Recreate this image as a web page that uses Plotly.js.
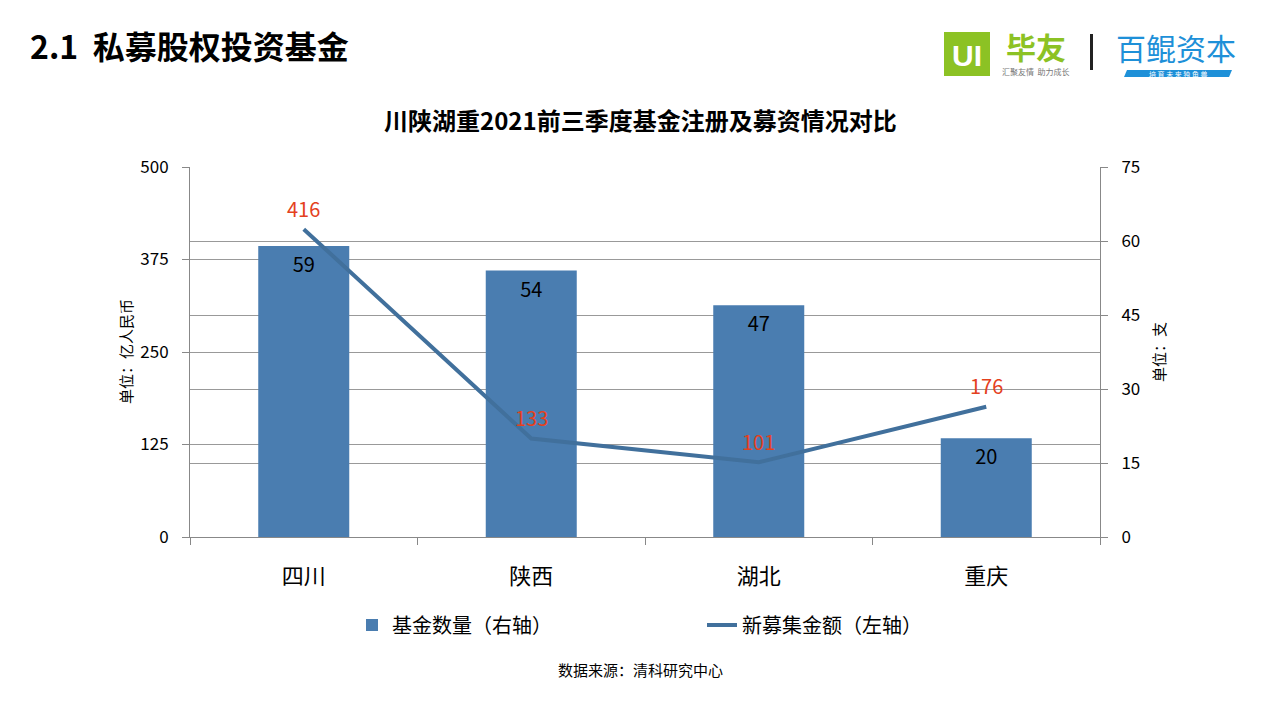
<!DOCTYPE html>
<html><head><meta charset="utf-8">
<script src="https://cdn.plot.ly/plotly-3.0.1.min.js"></script>
<style>html,body{margin:0;padding:0;background:#fff;}#chart{width:1280px;height:720px;}</style>
</head><body><div id="chart"></div>
<script>
var categories = ['四川', '陕西', '湖北', '重庆'];
var fundCount = [59, 54, 47, 20];          // 基金数量（右轴）, 支
var newFunding = [416, 133, 101, 176];     // 新募集金额（左轴）, 亿人民币
var leftTicks = [0, 125, 250, 375, 500];
var rightTicks = [0, 15, 30, 45, 60, 75];

var FONT = '"Noto Sans CJK SC", "Noto Sans", sans-serif';
var L = 190, R = 1100, T = 167, B = 537;
function px(x){ return (x - L) / (R - L); }
function py(y){ return (B - y) / (B - T); }

var barTrace = {
  type: 'bar', name: '基金数量（右轴）', x: categories, y: fundCount,
  yaxis: 'y', marker: {color: '#4A7DB0'}, width: 0.4,
  text: fundCount.map(String), textposition: 'inside', insidetextanchor: 'end',
  insidetextfont: {family: FONT, size: 20, color: '#000'}, constraintext: 'none',
  hoverinfo: 'skip'
};
var lineTrace = {
  type: 'scatter', mode: 'lines', name: '新募集金额（左轴）', x: categories, y: newFunding,
  yaxis: 'y2', line: {color: '#41709C', width: 4}, hoverinfo: 'skip'
};

var shapes = [
  {type: 'rect', xref: 'paper', yref: 'paper', x0: px(944), x1: px(990), y0: py(76), y1: py(32),
   fillcolor: '#8CC224', line: {width: 0}},
  {type: 'rect', xref: 'paper', yref: 'paper', x0: px(1090), x1: px(1093), y0: py(70), y1: py(34),
   fillcolor: '#222', line: {width: 0}},
  {type: 'path', xref: 'paper', yref: 'paper',
   path: 'M ' + px(1124) + ' ' + py(77) + ' L ' + px(1127) + ' ' + py(70) + ' L ' + px(1232) + ' ' + py(70) + ' L ' + px(1229) + ' ' + py(77) + ' Z',
   fillcolor: '#1E90D8', line: {width: 0}}
];

var annotations = [
  {text: '<b>2.1  私募股权投资基金</b>', xref: 'paper', yref: 'paper', x: px(28), y: py(45),
   xanchor: 'left', yanchor: 'middle', showarrow: false, font: {family: FONT, size: 32, color: '#000'}},
  {text: '<b>川陕湖重2021前三季度基金注册及募资情况对比</b>', xref: 'paper', yref: 'paper', x: px(640), y: py(120),
   xanchor: 'center', yanchor: 'middle', showarrow: false, font: {family: FONT, size: 24, color: '#000'}},
  {text: '单位：亿人民币', xref: 'paper', yref: 'paper', x: px(125), y: py(352), textangle: -90,
   xanchor: 'center', yanchor: 'middle', showarrow: false, font: {family: FONT, size: 15, color: '#000'}},
  {text: '单位：支', xref: 'paper', yref: 'paper', x: px(1158), y: py(352), textangle: -90,
   xanchor: 'center', yanchor: 'middle', showarrow: false, font: {family: FONT, size: 15, color: '#000'}},
  {text: '数据来源：清科研究中心', xref: 'paper', yref: 'paper', x: px(640), y: py(669),
   xanchor: 'center', yanchor: 'middle', showarrow: false, font: {family: FONT, size: 15, color: '#000'}},
  {text: '<b>UI</b>', xref: 'paper', yref: 'paper', x: px(967), y: py(55),
   xanchor: 'center', yanchor: 'middle', showarrow: false, font: {family: '"Liberation Sans", sans-serif', size: 30, color: '#fff'}},
  {text: '<b>毕友</b>', xref: 'paper', yref: 'paper', x: px(1036), y: py(46),
   xanchor: 'center', yanchor: 'middle', showarrow: false, font: {family: FONT, size: 30, color: '#8CC224'}},
  {text: '汇聚友情  助力成长', xref: 'paper', yref: 'paper', x: px(1036), y: py(72),
   xanchor: 'center', yanchor: 'middle', showarrow: false, font: {family: FONT, size: 8, color: '#777'}},
  {text: '百鲲资本', xref: 'paper', yref: 'paper', x: px(1176), y: py(47),
   xanchor: 'center', yanchor: 'middle', showarrow: false, font: {family: FONT, size: 30, color: '#1E90D8'}},
  {text: '培 育 未 来 独 角 兽', xref: 'paper', yref: 'paper', x: px(1178), y: py(73.5),
   xanchor: 'center', yanchor: 'middle', showarrow: false, font: {family: FONT, size: 7, color: '#fff'}}
];

// line value labels, placed through the data axes
categories.forEach(function(c, i){
  annotations.push({text: String(newFunding[i]), x: c, y: newFunding[i], xref: 'x', yref: 'y2',
    showarrow: false, yanchor: 'middle', xanchor: 'center', yshift: 21,
    font: {family: FONT, size: 20, color: '#E4411E'}});
});

var layout = {
  width: 1280, height: 720,
  margin: {l: L, r: 1280 - R, t: T, b: 720 - B, pad: 0},
  paper_bgcolor: '#fff', plot_bgcolor: '#fff',
  font: {family: FONT, color: '#000'},
  showlegend: true,
  legend: {orientation: 'h', x: px(352), xanchor: 'left', y: py(625), yanchor: 'middle',
           font: {family: FONT, size: 20, color: '#000'}, entrywidth: 305, entrywidthmode: 'pixels',
           traceorder: 'normal'},
  xaxis: {type: 'category', tickson: 'boundaries', ticks: 'outside', ticklen: 7, tickcolor: '#888',
          showline: true, linecolor: '#888', linewidth: 1, showgrid: false, ticklabelstandoff: 20,
          tickfont: {family: FONT, size: 22, color: '#000'}, fixedrange: true},
  yaxis: {side: 'right', range: [0, 75], tickvals: rightTicks, ticks: 'outside', ticklen: 7, tickcolor: '#888',
          showline: true, linecolor: '#888', showgrid: true, gridcolor: '#999', gridwidth: 1,
          zeroline: false, tickfont: {family: FONT, size: 17, color: '#000'}, ticklabelstandoff: 10, fixedrange: true},
  yaxis2: {overlaying: 'y', side: 'left', range: [0, 500], tickvals: leftTicks, ticks: 'outside', ticklen: 7,
           tickcolor: '#888', showline: true, linecolor: '#888', showgrid: true, gridcolor: '#999', gridwidth: 1,
           zeroline: false, tickfont: {family: FONT, size: 17, color: '#000'}, ticklabelstandoff: 10, fixedrange: true},
  shapes: shapes,
  annotations: annotations
};

Plotly.newPlot('chart', [barTrace, lineTrace], layout, {displayModeBar: false, staticPlot: true});
</script></body></html>
